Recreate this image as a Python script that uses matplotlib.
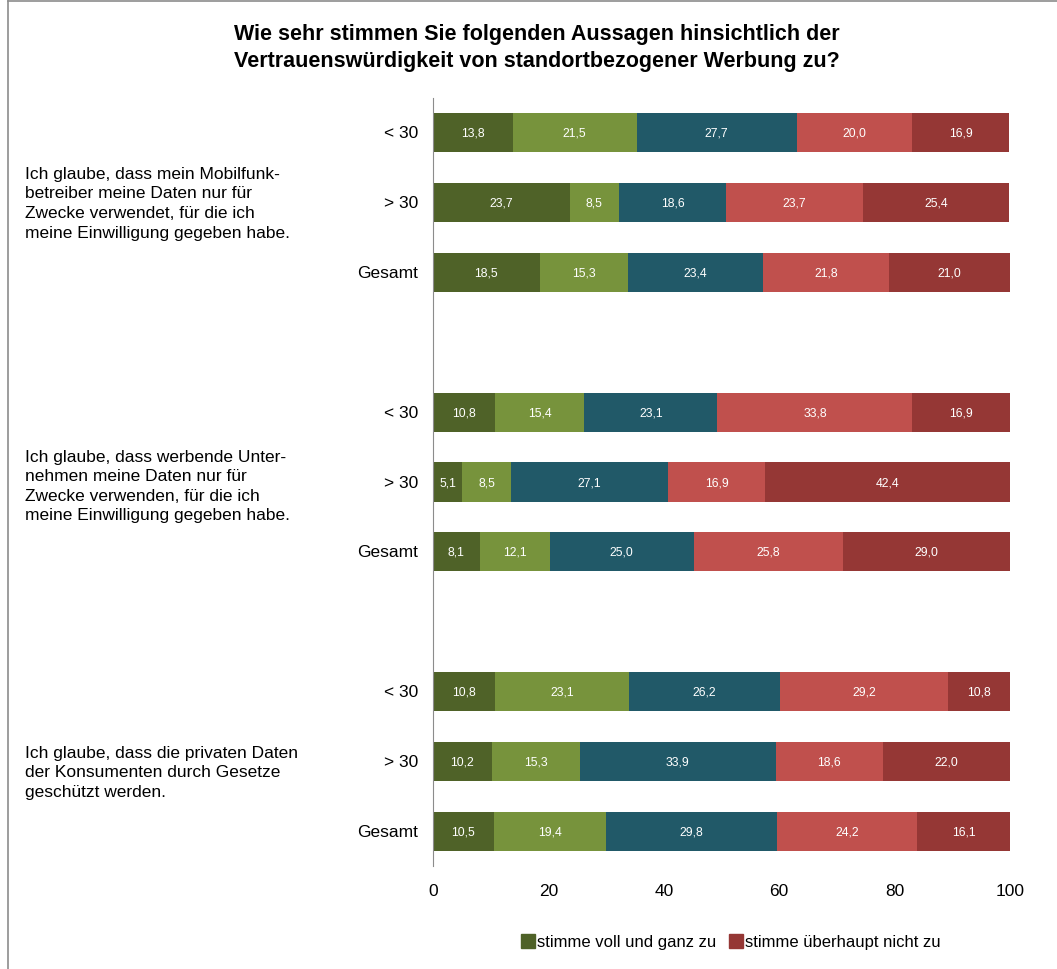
import numpy as np
import matplotlib.pyplot as plt
from matplotlib.lines import Line2D
from matplotlib.transforms import blended_transform_factory

plt.rcParams['font.family'] = ['Liberation Sans', 'DejaVu Sans']

# Aussagen (je Gruppe drei Zeilen: < 30, > 30, Gesamt)
aussagen = [
    "Ich glaube, dass mein Mobilfunk-\nbetreiber meine Daten nur für\nZwecke verwendet, für die ich\nmeine Einwilligung gegeben habe.",
    "Ich glaube, dass werbende Unter-\nnehmen meine Daten nur für\nZwecke verwenden, für die ich\nmeine Einwilligung gegeben habe.",
    "Ich glaube, dass die privaten Daten\nder Konsumenten durch Gesetze\ngeschützt werden.",
]
gruppen = ["< 30", "> 30", "Gesamt"]

# Werte in Prozent, Zeilen von oben nach unten
voll_zu = [13.8, 23.7, 18.5, 10.8, 5.1, 8.1, 10.8, 10.2, 10.5]
eher_zu = [21.5, 8.5, 15.3, 15.4, 8.5, 12.1, 23.1, 15.3, 19.4]
teils = [27.7, 18.6, 23.4, 23.1, 27.1, 25.0, 26.2, 33.9, 29.8]
eher_nicht = [20.0, 23.7, 21.8, 33.8, 16.9, 25.8, 29.2, 18.6, 24.2]
gar_nicht = [16.9, 25.4, 21.0, 16.9, 42.4, 29.0, 10.8, 22.0, 16.1]

serien = [voll_zu, eher_zu, teils, eher_nicht, gar_nicht]
farben = ['#4F6228', '#77933C', '#215968', '#C0504D', '#953735']

fig = plt.figure(figsize=(10.57, 9.7), dpi=100)
ax = fig.add_axes([433 / 1057, 1 - 867 / 970, 577 / 1057, 768 / 970])

# Zeilenpositionen mit Lücke zwischen den Gruppen
pos = np.array([g * 4 + r for g in range(3) for r in range(3)])

links = np.zeros(len(pos))
for werte, farbe in zip(serien, farben):
    werte = np.array(werte)
    ax.barh(pos, werte, left=links, height=0.56, color=farbe)
    for y, x0, w in zip(pos, links, werte):
        ax.text(x0 + w / 2, y, f"{w:.1f}".replace('.', ','), ha='center',
                va='center', color='white', fontsize=8.8)
    links += werte

ax.set_xlim(0, 100)
ax.set_ylim(10.5, -0.5)
ax.set_xticks([0, 20, 40, 60, 80, 100])
ax.tick_params(axis='x', length=0, labelsize=12.5, pad=12)
ax.set_yticks([])
for s in ['top', 'right', 'bottom']:
    ax.spines[s].set_visible(False)
ax.spines['left'].set_color('#8c8c8c')

# Zeilenbeschriftungen und Aussagen links
links_fig = blended_transform_factory(fig.transFigure, ax.transData)
versatz = [0.0, 0.05, 0.15]
for g in range(3):
    for r, name in enumerate(gruppen):
        ax.text(-2.6, g * 4 + r, name, ha='right', va='center', fontsize=12.5)
    ax.text(25 / 1057, g * 4 + 1 + versatz[g], aussagen[g], ha='left', va='center',
            fontsize=12.5, linespacing=1.38, transform=links_fig)

fig.text(537 / 1057, 1 - 48 / 970,
         "Wie sehr stimmen Sie folgenden Aussagen hinsichtlich der\n"
         "Vertrauenswürdigkeit von standortbezogener Werbung zu?",
         ha='center', va='center', fontsize=15.5, fontweight='bold', linespacing=1.38)

handles = [Line2D([], [], marker='s', linestyle='', markersize=9.5, color=farben[0]),
           Line2D([], [], marker='s', linestyle='', markersize=9.5, color=farben[4])]
fig.legend(handles, ["stimme voll und ganz zu", "stimme überhaupt nicht zu"],
           loc='center', bbox_to_anchor=(731 / 1057, 1 - 943 / 970), ncol=2,
           frameon=False, fontsize=12, handlelength=0.8, handletextpad=0.15,
           columnspacing=0.8)

# Rahmen oben und links
fig.add_artist(Line2D([8 / 1057, 8 / 1057], [0, 1 - 2 / 970], color='#8c8c8c', lw=1.2,
                      transform=fig.transFigure))
fig.add_artist(Line2D([8 / 1057, 1], [1 - 2 / 970, 1 - 2 / 970], color='#8c8c8c', lw=1.2,
                      transform=fig.transFigure))

fig.savefig('out.png', dpi=100)
